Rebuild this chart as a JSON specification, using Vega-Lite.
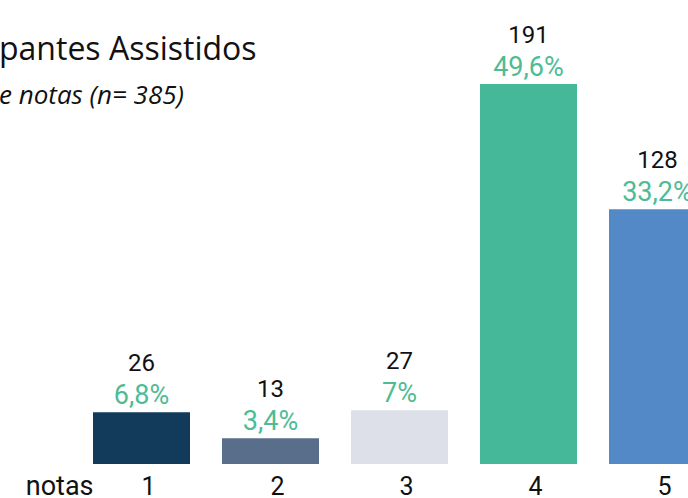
{
  "$schema": "https://vega.github.io/schema/vega-lite/v6.json",
  "autosize": "none",
  "padding": {"left": 0, "top": 0, "right": 0, "bottom": 34},
  "width": 688,
  "height": 464,
  "background": "white",
  "config": {"view": {"stroke": null}},
  "title": {
    "text": "pantes Assistidos",
    "subtitle": "e notas (n= 385)",
    "anchor": "start",
    "frame": "group",
    "offset": -110,
    "dx": -1,
    "font": "Open Sans",
    "fontSize": 32,
    "fontWeight": "normal",
    "color": "#111111",
    "subtitleFont": "Open Sans",
    "subtitleFontSize": 26,
    "subtitleFontStyle": "italic",
    "subtitleColor": "#111111",
    "subtitlePadding": 16
  },
  "data": {
    "values": [
      {"nota": "1", "n": 26, "pct": "6,8%"},
      {"nota": "2", "n": 13, "pct": "3,4%"},
      {"nota": "3", "n": 27, "pct": "7%"},
      {"nota": "4", "n": 191, "pct": "49,6%"},
      {"nota": "5", "n": 128, "pct": "33,2%"}
    ]
  },
  "encoding": {
    "x": {
      "field": "nota",
      "type": "nominal",
      "scale": {"range": [77, 722], "paddingInner": 0.248, "paddingOuter": 0.124},
      "axis": {
        "title": "notas",
        "titleX": 93,
        "titleY": 30,
        "titleAlign": "right",
        "titleBaseline": "alphabetic",
        "titleAnchor": null,
        "titleFont": "Roboto",
        "titleFontSize": 27,
        "titleFontWeight": "normal",
        "titleColor": "#111111",
        "labelAngle": 0,
        "labelFont": "Roboto",
        "labelFontSize": 25,
        "labelColor": "#111111",
        "labelBaseline": "alphabetic",
        "labelPadding": 30,
        "labelOffset": 7,
        "ticks": false,
        "tickSize": 0,
        "domain": false,
        "grid": false
      }
    },
    "y": {
      "field": "n",
      "type": "quantitative",
      "scale": {"domain": [0, 233.2], "nice": false, "zero": true},
      "axis": null
    }
  },
  "layer": [
    {
      "mark": {"type": "bar", "clip": true},
      "encoding": {
        "color": {
          "field": "nota",
          "type": "nominal",
          "scale": {"domain": ["1", "2", "3", "4", "5"], "range": ["#113a5b", "#586e8b", "#dee0e9", "#44b898", "#5489c7"]},
          "legend": null
        }
      }
    },
    {
      "mark": {"type": "text", "font": "Roboto", "fontSize": 27, "color": "#4dbc94", "baseline": "alphabetic", "dy": -8},
      "encoding": {"text": {"field": "pct"}}
    },
    {
      "mark": {"type": "text", "font": "Roboto", "fontSize": 24, "color": "#111111", "baseline": "alphabetic", "dy": -41},
      "encoding": {"text": {"field": "n", "type": "quantitative"}}
    }
  ]
}
